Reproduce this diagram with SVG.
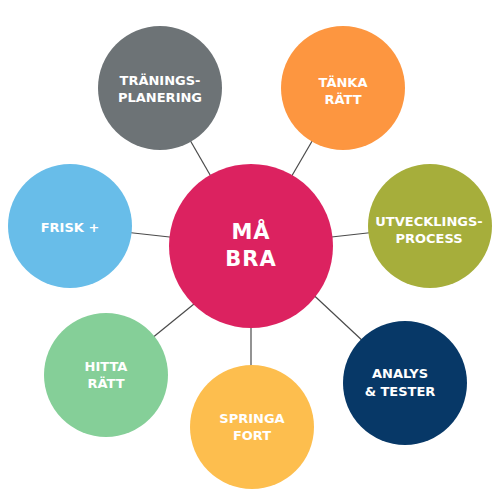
<svg xmlns="http://www.w3.org/2000/svg" width="500" height="490" viewBox="0 0 500 490">
<style>
.lbl{font-family:"DejaVu Sans","Liberation Sans",sans-serif;font-weight:bold;font-size:13px;fill:#fff;text-anchor:middle}
.big{font-size:21px;letter-spacing:1px}
.edge{stroke:#4a4a4a;stroke-width:1.2;fill:none}
</style>
<rect width="500" height="490" fill="#fff"/>
<g id="connectors">
<line class="edge" x1="251" y1="246" x2="160" y2="88"/>
<line class="edge" x1="251" y1="246" x2="343" y2="88"/>
<line class="edge" x1="251" y1="246" x2="430" y2="226"/>
<line class="edge" x1="251" y1="246" x2="70" y2="226"/>
<line class="edge" x1="305" y1="287" x2="380" y2="357"/>
<line class="edge" x1="251" y1="246" x2="251" y2="427"/>
<line class="edge" x1="210" y1="291" x2="130" y2="356"/>
</g>
<g id="node-traningsplanering">
<circle cx="160" cy="88" r="62" fill="#6d7376"/>
<text class="lbl" x="160" y="85">TRÄNINGS-</text>
<text class="lbl" x="160" y="101.7">PLANERING</text>
</g>
<g id="node-tanka-ratt">
<circle cx="343" cy="88" r="62" fill="#fd9640"/>
<text class="lbl" x="343" y="87.3">TÄNKA</text>
<text class="lbl" x="343" y="104">RÄTT</text>
</g>
<g id="node-utvecklingsprocess">
<circle cx="430" cy="226" r="62" fill="#a6ae3b"/>
<text class="lbl" x="429" y="226">UTVECKLINGS-</text>
<text class="lbl" x="429" y="243.3">PROCESS</text>
</g>
<g id="node-frisk">
<circle cx="70" cy="226" r="62" fill="#68bde9"/>
<text class="lbl" x="70" y="231.7">FRISK +</text>
</g>
<g id="node-hitta-ratt">
<circle cx="106" cy="375" r="62" fill="#85cf98"/>
<text class="lbl" x="106" y="371">HITTA</text>
<text class="lbl" x="106" y="387.7">RÄTT</text>
</g>
<g id="node-springa-fort">
<circle cx="252" cy="427" r="62" fill="#fdbe4e"/>
<text class="lbl" x="252" y="423.3">SPRINGA</text>
<text class="lbl" x="252" y="440">FORT</text>
</g>
<g id="node-analys-tester">
<circle cx="405" cy="383" r="62" fill="#073867"/>
<text class="lbl" x="400" y="377.7">ANALYS</text>
<text class="lbl" x="400" y="395.7">&amp; TESTER</text>
</g>
<g id="node-ma-bra">
<circle cx="251" cy="246" r="82" fill="#dc2260"/>
<text class="lbl big" x="251" y="239.3">MÅ</text>
<text class="lbl big" x="251" y="265.7">BRA</text>
</g>
</svg>
